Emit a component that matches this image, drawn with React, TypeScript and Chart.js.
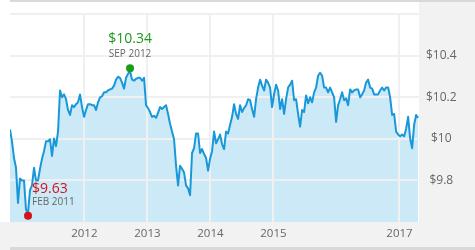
import React, { useEffect, useRef } from 'react';
import { Chart, registerables } from 'chart.js';

Chart.register(...registerables);

// Sampling of the fund price (decimal years, ~11.6 days between samples)
const startYear = 2010.82;
const endYear = 2017.31;
const sampleStepYears = 0.031746;

const prices = [
  10.045, 9.988, 9.908, 9.861, 9.692, 9.809, 9.8, 9.8, 9.659, 9.645,
  9.753, 9.776, 9.861, 9.8, 9.8, 9.856, 9.904, 9.941, 9.988, 9.988,
  9.998, 9.918, 10.002, 9.965, 10.035, 10.233, 10.2, 10.214, 10.191, 10.139,
  10.115, 10.162, 10.153, 10.167, 10.176, 10.214, 10.153, 10.106, 10.139, 10.167,
  10.167, 10.162, 10.162, 10.139, 10.176, 10.2, 10.205, 10.224, 10.224, 10.233,
  10.238, 10.242, 10.256, 10.285, 10.299, 10.294, 10.271, 10.242, 10.294, 10.313,
  10.327, 10.285, 10.28, 10.289, 10.294, 10.294, 10.28, 10.294, 10.162, 10.148,
  10.129, 10.106, 10.111, 10.101, 10.125, 10.153, 10.144, 10.153, 10.162, 10.12,
  10.073, 10.035, 9.998, 9.871, 9.776, 9.871, 9.856, 9.838, 9.776, 9.762,
  9.729, 9.932, 9.955, 10.026, 10.026, 9.932, 9.951, 9.927, 9.908, 9.847,
  9.904, 9.941, 10.035, 9.979, 9.998, 10.021, 9.974, 9.951, 10.035, 10.026,
  10.068, 10.106, 10.167, 10.12, 10.096, 10.162, 10.129, 10.148, 10.162, 10.191,
  10.186, 10.144, 10.106, 10.191, 10.247, 10.285, 10.256, 10.233, 10.285, 10.271,
  10.247, 10.153, 10.214, 10.261, 10.233, 10.144, 10.191, 10.12, 10.191, 10.247,
  10.261, 10.28, 10.186, 10.191, 10.12, 10.059, 10.139, 10.129, 10.209, 10.171,
  10.2, 10.176, 10.224, 10.247, 10.304, 10.318, 10.304, 10.247, 10.247, 10.224,
  10.247, 10.224, 10.2, 10.082, 10.162, 10.191, 10.224, 10.186, 10.195, 10.162,
  10.238, 10.224, 10.233, 10.238, 10.238, 10.2, 10.214, 10.233, 10.271, 10.285,
  10.247, 10.242, 10.214, 10.214, 10.214, 10.233, 10.247, 10.233, 10.247, 10.247,
  10.2, 10.115, 10.12, 10.035, 10.021, 10.012, 10.021, 10.012, 10.049, 10.106,
  10.002, 9.955, 10.068, 10.115, 10.101,
];

const xTickYears = [2012, 2013, 2014, 2015, 2017];
const yTickValues = [9.8, 10, 10.2, 10.4, 10.6];
const yTickLabels = ['$9.8', '$10', '$10.2', '$10.4', ''];

const extremeDates = [2011.106, 2012.725];
const extremeValues = [9.63, 10.34];
const extremePriceLabels = ['$9.63', '$10.34'];
const extremeMonthLabels = ['FEB 2011', 'SEP 2012'];
const extremeColors = ['#d4121c', '#1c9a1c'];

const LINE_COLOR = '#1898d8';
const FILL_COLOR = '#cce9f7';
const GRID_COLOR = '#f0f0f0';
const PANEL_COLOR = '#f2f2f2';
const STRIP_COLOR = '#d9d9d9';
const TEXT_COLOR = '#666666';
const FONT = "'Open Sans', sans-serif";
const FILL_INDEX = 2;

const framePlugin = {
  id: 'frame',
  beforeDraw(chart: any) {
    const { ctx, width, height, chartArea: a } = chart;
    ctx.save();
    ctx.fillStyle = '#ffffff';
    ctx.fillRect(0, 0, width, height);
    ctx.fillStyle = PANEL_COLOR;
    ctx.fillRect(a.right, 0, width - a.right, height);
    ctx.fillRect(0, a.bottom, a.right, height - a.bottom);
    ctx.fillStyle = STRIP_COLOR;
    ctx.fillRect(a.left, 0, width - a.left, 2);
    ctx.fillRect(a.left, height - 3, width - a.left, 3);
    ctx.restore();
  },
  afterDatasetDraw(chart: any, args: any) {
    if (args.index !== FILL_INDEX) return;
    const { ctx, chartArea: a, scales } = chart;
    ctx.save();
    ctx.strokeStyle = GRID_COLOR;
    ctx.lineWidth = 2;
    for (const v of xTickYears) {
      const px = Math.round(scales.x.getPixelForValue(v));
      ctx.beginPath();
      ctx.moveTo(px, a.top);
      ctx.lineTo(px, a.bottom);
      ctx.stroke();
    }
    for (const v of yTickValues) {
      const py = Math.round(scales.y.getPixelForValue(v));
      ctx.beginPath();
      ctx.moveTo(a.left, py);
      ctx.lineTo(a.right, py);
      ctx.stroke();
    }
    ctx.restore();
  },
  afterDraw(chart: any) {
    const { ctx, scales } = chart;
    ctx.save();
    ctx.textBaseline = 'alphabetic';
    // low (left aligned, to the right of the dot)
    {
      const cx = scales.x.getPixelForValue(extremeDates[0]);
      const cy = scales.y.getPixelForValue(extremeValues[0]);
      ctx.textAlign = 'left';
      ctx.fillStyle = extremeColors[0];
      ctx.font = `14px ${FONT}`;
      ctx.fillText(extremePriceLabels[0], cx + 4, cy - 23);
      ctx.fillStyle = TEXT_COLOR;
      ctx.font = `10px ${FONT}`;
      ctx.fillText(extremeMonthLabels[0], cx + 4, cy - 11);
    }
    // high (centred above the dot)
    {
      const cx = scales.x.getPixelForValue(extremeDates[1]);
      const cy = scales.y.getPixelForValue(extremeValues[1]);
      ctx.textAlign = 'center';
      ctx.fillStyle = extremeColors[1];
      ctx.font = `14px ${FONT}`;
      ctx.fillText(extremePriceLabels[1], cx, cy - 25);
      ctx.fillStyle = TEXT_COLOR;
      ctx.font = `10px ${FONT}`;
      ctx.fillText(extremeMonthLabels[1], cx, cy - 11);
    }
    ctx.restore();
  },
};

export default function App() {
  const canvasRef = useRef<HTMLCanvasElement | null>(null);

  useEffect(() => {
    document.body.style.margin = '0';
    const canvas = canvasRef.current;
    if (!canvas) return;
    const points = prices.map((p, i) => ({ x: startYear + i * sampleStepYears, y: p }));
    const markers = extremeDates.map((d, i) => ({ x: d, y: extremeValues[i] }));

    const chart = new Chart(canvas, {
      type: 'line',
      data: {
        datasets: [
          {
            data: markers,
            showLine: false,
            pointRadius: 4,
            pointHoverRadius: 4,
            pointBorderWidth: 0,
            pointBackgroundColor: extremeColors,
            borderColor: 'rgba(0,0,0,0)',
            clip: false,
          } as any,
          {
            data: points,
            borderColor: LINE_COLOR,
            borderWidth: 2,
            pointRadius: 0,
            tension: 0,
            fill: false,
            borderJoinStyle: 'round',
          },
          {
            data: points,
            borderColor: 'rgba(0,0,0,0)',
            borderWidth: 0,
            backgroundColor: FILL_COLOR,
            pointRadius: 0,
            tension: 0,
            fill: 'start',
          },
        ],
      },
      options: {
        animation: false,
        responsive: true,
        maintainAspectRatio: false,
        devicePixelRatio: 1,
        layout: { padding: { top: 10, left: 10, right: 0, bottom: 0 } },
        plugins: { legend: { display: false }, tooltip: { enabled: false } },
        events: [],
        scales: {
          x: {
            type: 'linear',
            min: startYear,
            max: endYear,
            grid: { display: false, drawTicks: false, tickLength: 0 },
            border: { display: false },
            afterBuildTicks: (s: any) => {
              s.ticks = xTickYears.map((v) => ({ value: v }));
            },
            afterFit: (s: any) => {
              s.height = 28;
            },
            ticks: {
              autoSkip: false,
              maxRotation: 0,
              padding: 5,
              color: TEXT_COLOR,
              font: { family: FONT, size: 11.5 },
              callback: (v: any) => String(v),
            },
          },
          y: {
            type: 'linear',
            position: 'right',
            min: 9.6,
            max: 10.6,
            grid: { display: false, drawTicks: false, tickLength: 0 },
            border: { display: false },
            afterBuildTicks: (s: any) => {
              s.ticks = yTickValues.map((v) => ({ value: v }));
            },
            afterFit: (s: any) => {
              s.width = 56;
            },
            ticks: {
              crossAlign: 'center',
              padding: 7,
              color: TEXT_COLOR,
              font: { family: FONT, size: 12 },
              callback: (_v: any, i: number) => yTickLabels[i],
            },
          },
        },
      } as any,
      plugins: [framePlugin],
    });
    return () => chart.destroy();
  }, []);

  return (
    <div style={{ position: 'relative', width: 475, height: 250 }}>
      <canvas ref={canvasRef} />
    </div>
  );
}
